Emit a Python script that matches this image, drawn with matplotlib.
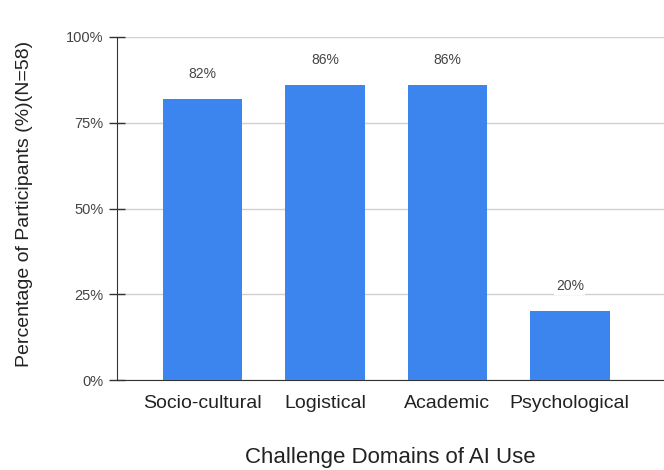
import matplotlib.pyplot as plt
import numpy as np

plt.rcParams['font.family'] = ['Liberation Sans', 'DejaVu Sans']

domains = ['Socio-cultural', 'Logistical', 'Academic', 'Psychological']
percent = [82, 86, 86, 20]
y_ticks = [0, 25, 50, 75, 100]

bar_color = '#3d85ee'
text_gray = '#444444'

fig = plt.figure(figsize=(6.64, 4.70), dpi=100)
ax = fig.add_axes([117/664, 90/470, (664-117)/664, 343/470])

x = np.arange(len(domains))
bars = ax.bar(x, percent, width=0.65, color=bar_color, zorder=3)

for rect, v in zip(bars, percent):
    ax.annotate(f'{v}%', (rect.get_x() + rect.get_width()/2, v),
                xytext=(0, 18), textcoords='offset points',
                ha='center', va='center', fontsize=10, color=text_gray,
                bbox=dict(boxstyle='square,pad=0.1', fc='white', ec='none'),
                zorder=4)

ax.set_xlim(-0.7, 3.77)
ax.set_ylim(0, 100)
ax.set_yticks(y_ticks)
ax.set_yticklabels([f'{t}%' for t in y_ticks])
ax.set_xticks(x)
ax.set_xticklabels(domains, fontsize=14)

ax.yaxis.grid(True, color='#d0d0d0', linewidth=1, zorder=0)
ax.tick_params(axis='y', direction='inout', length=11, width=1, color='#333333',
               labelsize=10.5, labelcolor=text_gray, pad=4)
ax.tick_params(axis='x', length=0, pad=11, labelcolor='#222222')

for side in ['top', 'right']:
    ax.spines[side].set_visible(False)
ax.spines['left'].set_color('#333333')
ax.spines['bottom'].set_color('#333333')
ax.spines['left'].set_zorder(5)

ax.set_xlabel('Challenge Domains of AI Use', fontsize=16, color='#222222', labelpad=25)
ax.set_ylabel('Percentage of Participants (%)(N=58)', fontsize=14, color='#222222')
ax.yaxis.set_label_coords(-0.153, 0.512)

fig.savefig('out.png', dpi=100)
